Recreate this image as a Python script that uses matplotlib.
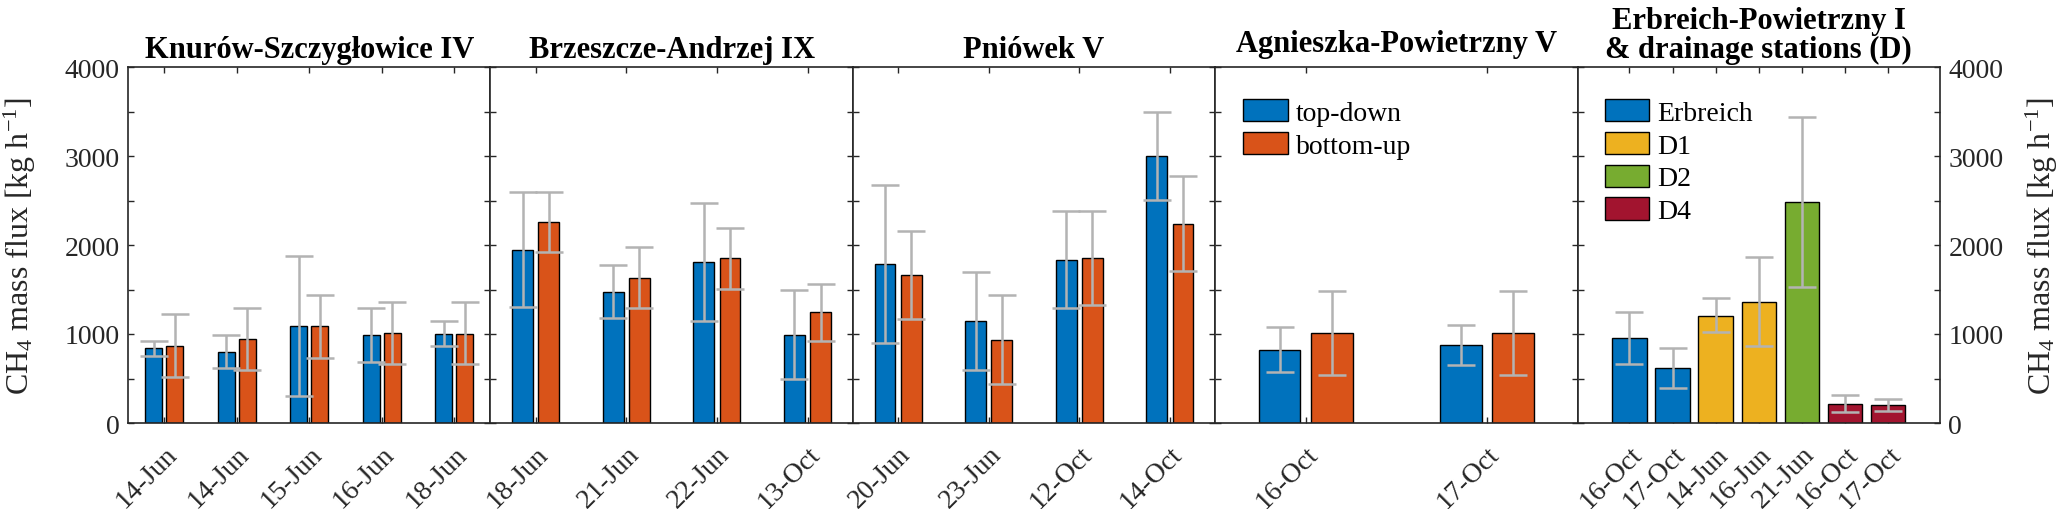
import matplotlib
matplotlib.use('Agg')
import matplotlib.pyplot as plt
from matplotlib.patches import Patch
import numpy as np

plt.rcParams['font.family'] = ['Liberation Serif', 'DejaVu Serif']
plt.rcParams['mathtext.fontset'] = 'custom'
plt.rcParams['mathtext.rm'] = 'Liberation Serif'
plt.rcParams['mathtext.it'] = 'Liberation Serif:italic'

# ---- data (kg/h), errors given as lower / upper bound of the error bar ----
knurow_dates = ['14-Jun', '14-Jun', '15-Jun', '16-Jun', '18-Jun']
knurow_td = [838, 801, 1089, 988, 1003]
knurow_td_lo = [756, 614, 299, 688, 868]
knurow_td_hi = [924, 988, 1878, 1291, 1145]
knurow_bu = [868, 943, 1085, 1007, 1003]
knurow_bu_lo = [520, 595, 733, 659, 659]
knurow_bu_hi = [1224, 1291, 1437, 1355, 1355]

brzeszcze_dates = ['18-Jun', '21-Jun', '22-Jun', '13-Oct']
brzeszcze_td = [1946, 1474, 1811, 992]
brzeszcze_td_lo = [1302, 1179, 1145, 494]
brzeszcze_td_hi = [2597, 1777, 2473, 1493]
brzeszcze_bu = [2264, 1631, 1852, 1242]
brzeszcze_bu_lo = [1923, 1287, 1508, 917]
brzeszcze_bu_hi = [2597, 1972, 2189, 1564]

pniowek_dates = ['20-Jun', '23-Jun', '12-Oct', '14-Oct']
pniowek_td = [1785, 1145, 1833, 2997]
pniowek_td_lo = [902, 599, 1291, 2507]
pniowek_td_hi = [2672, 1695, 2380, 3491]
pniowek_bu = [1658, 935, 1852, 2238]
pniowek_bu_lo = [1167, 442, 1321, 1703]
pniowek_bu_hi = [2152, 1433, 2387, 2773]

agnieszka_dates = ['16-Oct', '17-Oct']
agnieszka_td = [819, 876]
agnieszka_td_lo = [569, 655]
agnieszka_td_hi = [1081, 1096]
agnieszka_bu = [1007, 1010]
agnieszka_bu_lo = [539, 539]
agnieszka_bu_hi = [1478, 1478]

erbreich_dates = ['16-Oct', '17-Oct', '14-Jun', '16-Jun', '21-Jun', '16-Oct', '17-Oct']
erbreich_site = ['Erbreich', 'Erbreich', 'D1', 'D1', 'D2', 'D4', 'D4']
erbreich_flux = [954, 617, 1205, 1362, 2481, 213, 202]
erbreich_lo = [659, 393, 1018, 868, 1523, 120, 131]
erbreich_hi = [1250, 846, 1399, 1867, 3435, 318, 269]

site_colors = {'Erbreich': '#0072BD', 'D1': '#EDB120', 'D2': '#77AC30', 'D4': '#A2142F'}
c_td = '#0072BD'
c_bu = '#D95319'
c_err = '#b3b3b3'
c_ax = '#262626'

W, H = 2067, 510
fig = plt.figure(figsize=(W / 100, H / 100), dpi=100)
x0, x1, ytop, ybot = 128, 1940, 68, 424
pw = (x1 - x0) / 5
axes = []
for i in range(5):
    ax = fig.add_axes([(x0 + i * pw) / W, 1 - ybot / H, pw / W, (ybot - ytop) / H])
    axes.append(ax)

FS = 20
err_kw = dict(fmt='none', ecolor=c_err, elinewidth=1.8, capsize=10, capthick=1.8, zorder=3)
ylabs = ['0', '', '1000', '', '2000', '', '3000', '', '4000']


def style(ax, n, labels, xlim=None):
    ax.set_ylim(0, 4000)
    ax.set_xlim(xlim if xlim else (0.5, n + 0.5))
    ax.set_xticks(np.arange(1, n + 1))
    ax.set_xticklabels(labels, rotation=45, ha='right', va='top',
                       rotation_mode='anchor', fontsize=FS, color=c_ax)
    ax.set_yticks(np.arange(0, 4001, 500))
    ax.set_yticklabels([])
    ax.tick_params(axis='both', direction='in', length=4, width=1, color=c_ax,
                   top=True, right=True)
    ax.tick_params(axis='x', pad=13)
    for s in ax.spines.values():
        s.set_linewidth(1.2)
        s.set_color(c_ax)


def grouped(ax, td, td_lo, td_hi, bu, bu_lo, bu_hi, labels):
    n = len(td)
    x = np.arange(1, n + 1)
    w, off = 0.23, 0.145
    ax.bar(x - off, td, w, color=c_td, edgecolor='black', linewidth=1, zorder=2)
    ax.bar(x + off, bu, w, color=c_bu, edgecolor='black', linewidth=1, zorder=2)
    td, bu = np.array(td), np.array(bu)
    ax.errorbar(x - off, td, yerr=[td - np.array(td_lo), np.array(td_hi) - td], **err_kw)
    ax.errorbar(x + off, bu, yerr=[bu - np.array(bu_lo), np.array(bu_hi) - bu], **err_kw)
    style(ax, n, labels)


grouped(axes[0], knurow_td, knurow_td_lo, knurow_td_hi,
        knurow_bu, knurow_bu_lo, knurow_bu_hi, knurow_dates)
grouped(axes[1], brzeszcze_td, brzeszcze_td_lo, brzeszcze_td_hi,
        brzeszcze_bu, brzeszcze_bu_lo, brzeszcze_bu_hi, brzeszcze_dates)
grouped(axes[2], pniowek_td, pniowek_td_lo, pniowek_td_hi,
        pniowek_bu, pniowek_bu_lo, pniowek_bu_hi, pniowek_dates)
grouped(axes[3], agnieszka_td, agnieszka_td_lo, agnieszka_td_hi,
        agnieszka_bu, agnieszka_bu_lo, agnieszka_bu_hi, agnieszka_dates)

# last panel: single bars coloured by site
ax = axes[4]
xe = np.arange(1, len(erbreich_flux) + 1)
fl = np.array(erbreich_flux)
ax.bar(xe, fl, 0.8, color=[site_colors[s] for s in erbreich_site],
       edgecolor='black', linewidth=1, zorder=2)
ax.errorbar(xe, fl, yerr=[fl - np.array(erbreich_lo), np.array(erbreich_hi) - fl], **err_kw)
style(ax, len(xe), erbreich_dates, xlim=(-0.2, 8.2))

# y tick labels on the outer panels
axes[0].set_yticklabels(ylabs, fontsize=FS, color=c_ax)
axes[0].tick_params(axis='y', pad=6)
axes[4].tick_params(axis='y', left=True, right=True, labelleft=False, labelright=True, pad=6)
axes[4].set_yticklabels(ylabs, fontsize=FS, color=c_ax)

ylab = r'CH$_4$ mass flux [kg h$^{-1}$]'
ymid = 1 - (ytop + ybot) / 2 / H
fig.text(2 / W, ymid, ylab, rotation=90, ha='left', va='center', fontsize=23, color=c_ax)
fig.text(2024 / W, ymid, ylab, rotation=90, ha='left', va='center', fontsize=23, color=c_ax)

# titles
titles = ['Knurów-Szczygłowice IV', 'Brzeszcze-Andrzej IX', 'Pniówek V',
          'Agnieszka-Powietrzny V', 'Erbreich-Powietrzny I\n& drainage stations (D)']
pads = [7, 7, 7, 11.5, 7]
for a, t, p in zip(axes, titles, pads):
    a.set_title(t, fontsize=22, fontweight='bold', pad=p, linespacing=1.0)

leg_kw = dict(loc='upper left', frameon=False, fontsize=FS, borderpad=0, borderaxespad=0,
              handlelength=1.6, handleheight=0.85, handletextpad=0.3, labelspacing=0.22)
h1 = [Patch(facecolor=c_td, edgecolor='black', label='top-down'),
      Patch(facecolor=c_bu, edgecolor='black', label='bottom-up')]
axes[3].legend(handles=h1, bbox_to_anchor=(0.077, 0.91), **leg_kw)
h2 = [Patch(facecolor=c, edgecolor='black', label=k) for k, c in site_colors.items()]
axes[4].legend(handles=h2, bbox_to_anchor=(0.075, 0.91), **leg_kw)

fig.savefig('out.png', dpi=100)
